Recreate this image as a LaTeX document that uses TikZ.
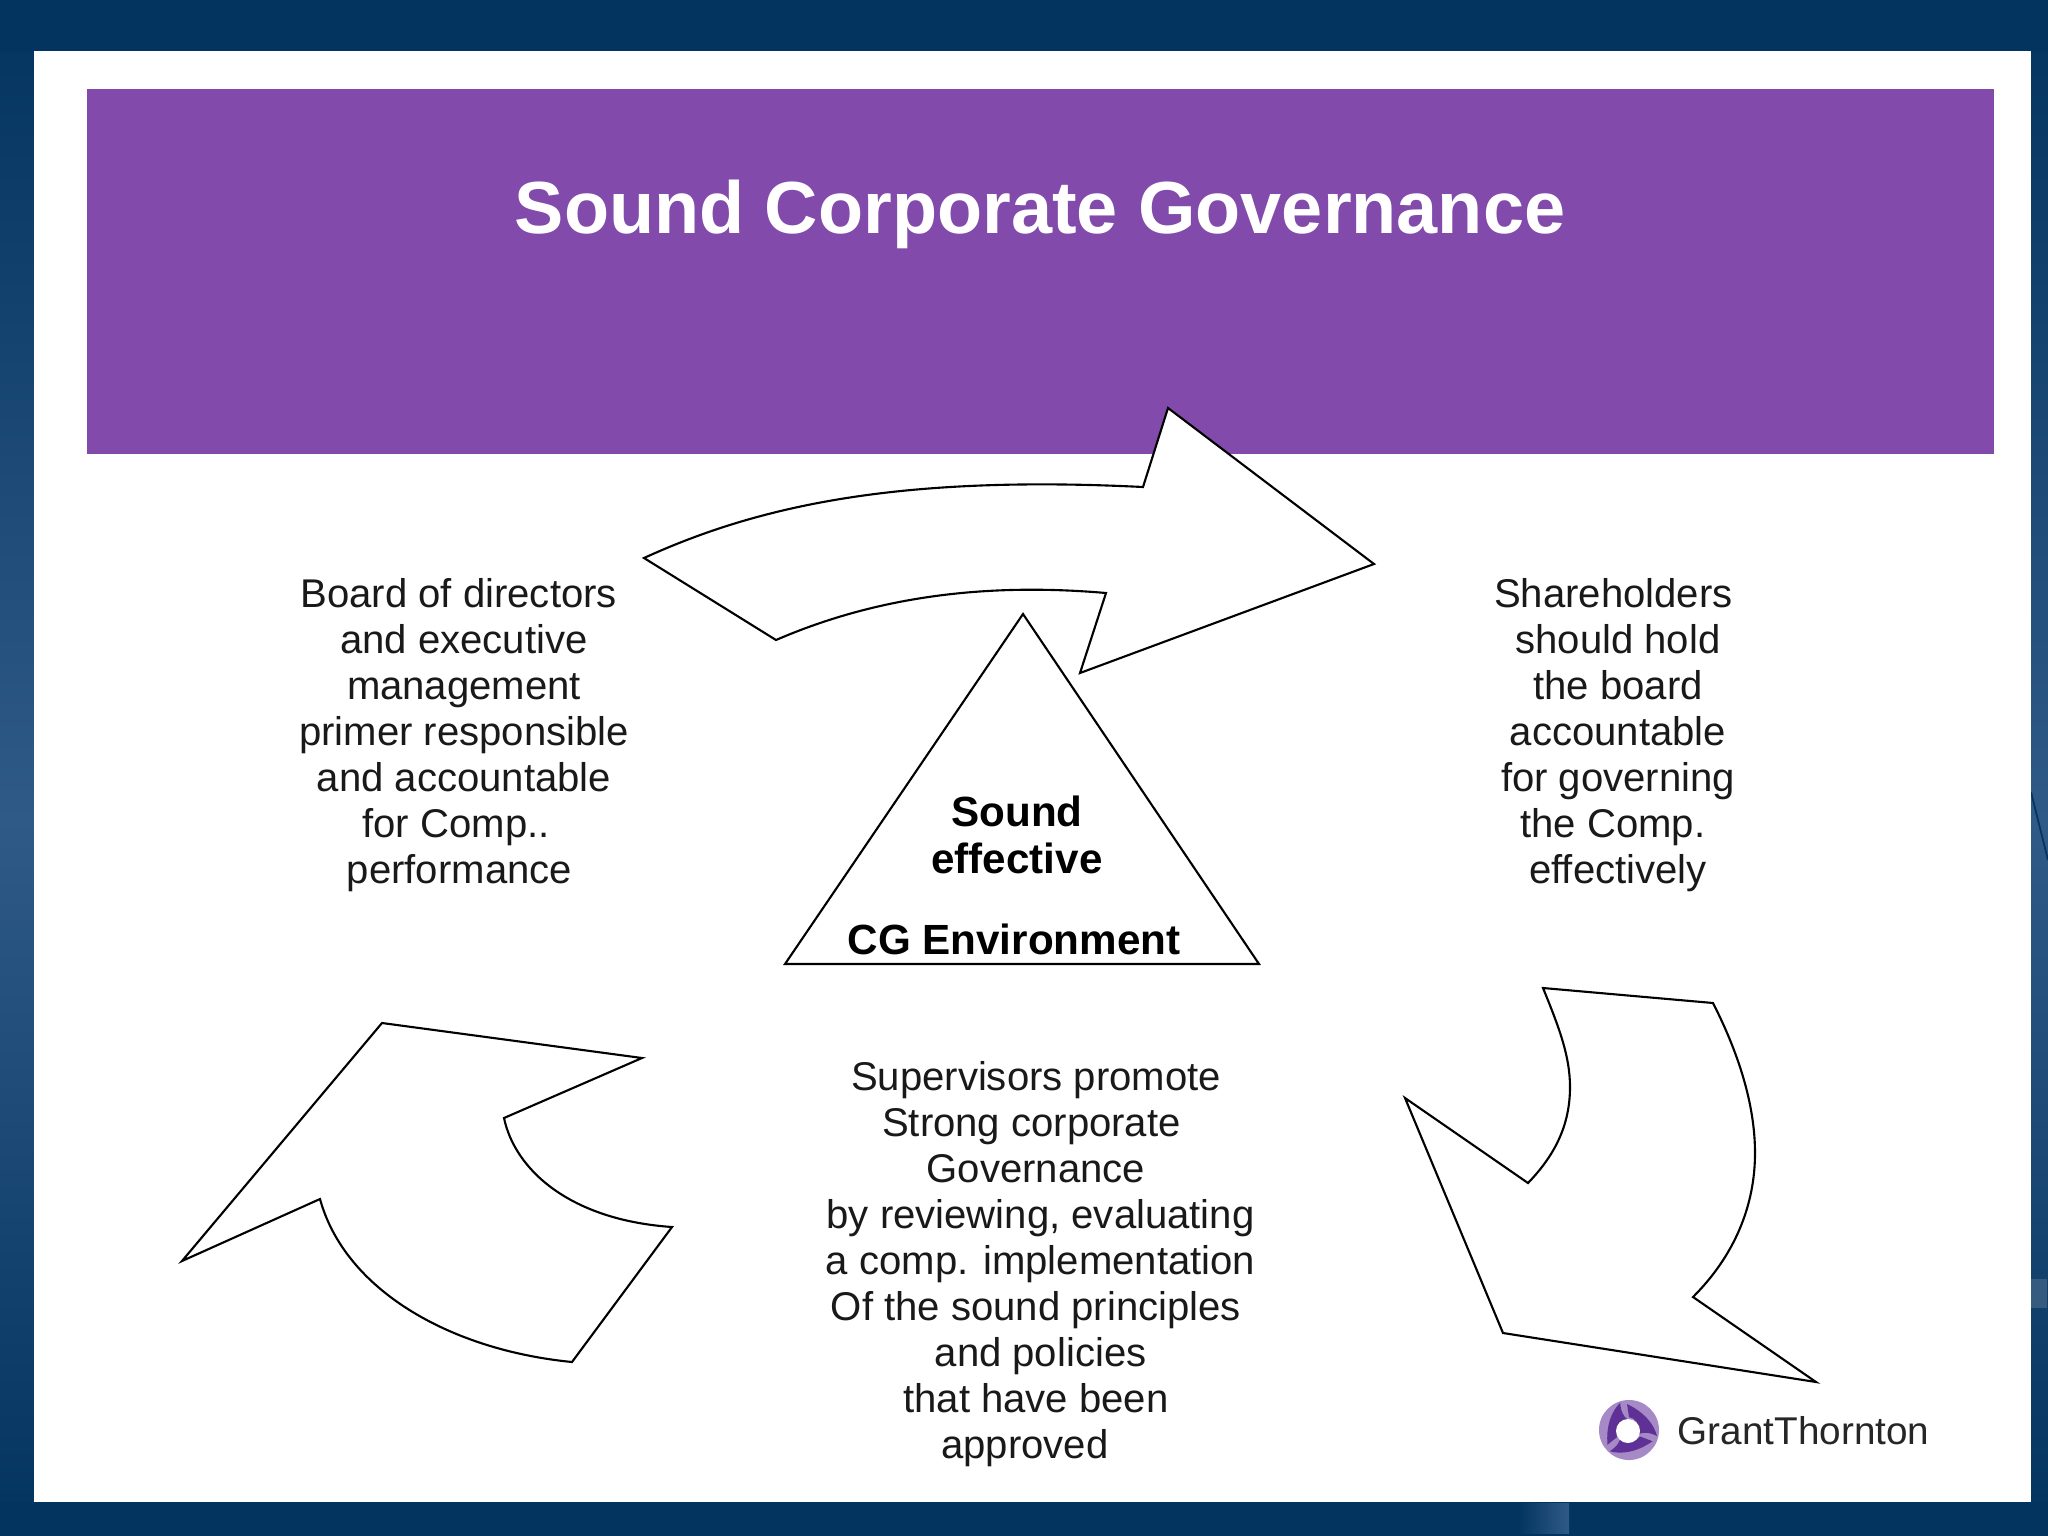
\documentclass[tikz,border=0pt]{standalone}
\usepackage{fontspec}
\setmainfont{Liberation Sans}
\usepackage{xcolor}
\usetikzlibrary{positioning,calc}

\definecolor{bgnavy}{HTML}{03335F}
\definecolor{bgmid}{HTML}{2F5A88}
\definecolor{bannerpurple}{HTML}{824AAB}
\definecolor{logolight}{HTML}{A68AC6}
\definecolor{logodark}{HTML}{5F3096}

\newcommand{\nudge}[1]{\hspace*{#1}}

\tikzset{
  arrowshape/.style={draw=black, fill=white, line width=0.6pt, line join=miter},
  bodytext/.style={align=center, inner sep=0pt, font=\fontsize{11.4}{13.1}\selectfont, text=black!90},
  boldtext/.style={align=center, inner sep=0pt, font=\fontsize{12}{13.3}\selectfont\bfseries}
}

\begin{document}
\begin{tikzpicture}[x=0.01cm, y=-0.01cm]
  \useasboundingbox (0,0) rectangle (2048,1536);

  % Backdrop
  \shade[top color=bgnavy, bottom color=bgmid] (0,0) rectangle (2048,820);
  \shade[top color=bgmid, bottom color=bgnavy] (0,820) rectangle (2048,1536);
  \fill[bgnavy] (0,0) rectangle (2048,51);
  \fill[bgnavy] (0,1502) rectangle (2048,1536);
  \fill[bgnavy!80!white] (2031,1279) rectangle (2047,1308);
  \shade[left color=bgnavy, right color=bgmid] (1518,1503) rectangle (1569,1533);
  \draw[bgnavy, line width=0.5pt] (2031,792) -- (2048,860);

  % Panel and banner
  \fill[white] (34,51) rectangle (2031,1502);
  \fill[bannerpurple] (87,89) rectangle (1994,454);
  \node[font=\fontsize{21}{25}\selectfont\bfseries, text=white, inner sep=0pt] (title) at (1040,214) {Sound Corporate Governance};

  % Top arrow
  \draw[arrowshape] (644,558) .. controls (760,505) and (900,475) .. (1143,487) -- (1168,408) -- (1374,564) -- (1080,673) -- (1106,593) .. controls (990,583) and (880,595) .. (776,640) -- cycle;

  % Right arrow
  \draw[arrowshape] (1543,988) -- (1713,1003) .. controls (1742,1060) and (1755,1110) .. (1755,1153) .. controls (1755,1205) and (1735,1255) .. (1693,1297) -- (1816,1382) -- (1503,1333) -- (1405,1098) -- (1528,1183) .. controls (1555,1155) and (1570,1125) .. (1570,1087) .. controls (1570,1055) and (1558,1025) .. cycle;

  % Left arrow
  \draw[arrowshape] (382,1023) -- (642,1058) -- (504,1118) .. controls (515,1170) and (570,1220) .. (672,1227) -- (572,1362) .. controls (450,1350) and (345,1290) .. (320,1199) -- (182,1261) -- cycle;

  % Centre triangle
  \draw[draw=black, line width=0.6pt] (1023,614) -- (1259,964) -- (785,964) -- cycle;
  \node[boldtext] (sound) at (1017,835) {Sound\\effective};
  \node[boldtext] (cgenv) at (1014,939) {CG Environment};

  % Texts
  \node[bodytext] (board) at (464,735) {\nudge{-3pt}Board of directors\\and executive\\management\\primer responsible\\and accountable\\\nudge{-4.5pt}for Comp..\\\nudge{-2.6pt}performance};
  \node[bodytext] (holders) at (1618,735) {\nudge{-2.6pt}Shareholders\\should hold\\the board\\accountable\\for governing\\\nudge{-3pt}the Comp.\\effectively};
  \node[bodytext] (super) at (1036,1264) {Supervisors promote\\\nudge{-2.6pt}Strong corporate\\Governance\\\nudge{2.6pt}by reviewing, evaluating\\\nudge{2.6pt}a comp. implementation\\Of the sound principles\\\nudge{2.6pt}and policies\\that have been\\\nudge{-6.3pt}approved};

  % Logo
  \fill[logolight] (1629,1430) circle (0.3cm);
  \foreach \ang in {0,120,240} {
    \fill[logodark, rotate around={\ang:(1629,1430)}] (1627,1404) .. controls (1644,1412) and (1654,1424) .. (1657,1436) .. controls (1649,1432) and (1643,1432) .. (1639,1434) .. controls (1640,1424) and (1635,1418) .. (1629,1417) -- cycle;
  }
  \fill[white] (1628,1431) circle (0.12cm);
  \node[font=\fontsize{11}{13}\selectfont, text=black!85, inner sep=0pt, anchor=west] (brand) at (1677,1431) {GrantThornton};
\end{tikzpicture}
\end{document}
